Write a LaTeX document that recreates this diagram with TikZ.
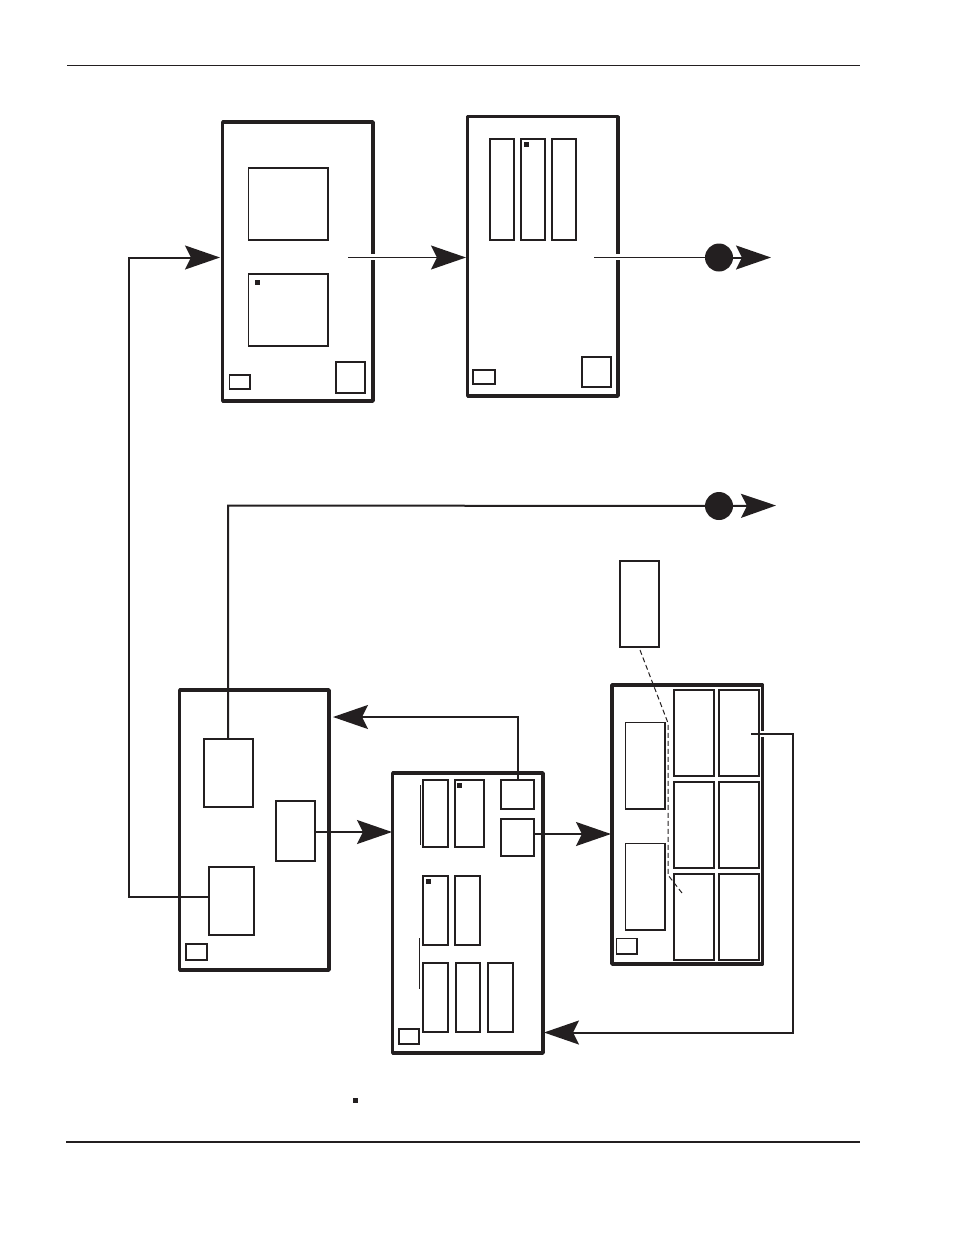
\documentclass[tikz,border=0pt]{standalone}
\usetikzlibrary{arrows.meta}
\definecolor{ink}{HTML}{231F20}
\tikzset{
  board/.style={draw=ink,line width=3.5pt,line join=round},
  part/.style={draw=ink,line width=1.5pt},
  partb/.style={draw=ink,line width=2pt},
  tag/.style={draw=ink,line width=1.1pt},
  conn/.style={draw=ink,line width=2pt},
  head/.style={-{Stealth[length=35pt,width=24pt,inset=6pt,color=ink]}},
  dot/.style={circle,fill=ink,inner sep=0pt,minimum size=28pt},
  marker/.style={fill=ink,draw=none,inner sep=0pt,minimum size=5pt}
}
\newcommand{\bx}[6]{%
  \pgfmathsetmacro{\bw}{#5-#3}\pgfmathsetmacro{\bh}{#6-#4}%
  \node[#2,rectangle,inner sep=0pt,outer sep=0pt,anchor=north west,minimum width=\bw pt,minimum height=\bh pt] (#1) at (#3,#4) {};}
\begin{document}
\begin{tikzpicture}[x=1pt,y=-1pt]
\useasboundingbox (0,0) rectangle (954,1235);
% rules
\coordinate (hl) at (67,65); \coordinate (hr) at (860,65);
\coordinate (fl) at (66,1142); \coordinate (fr) at (860,1142);
\draw[draw=ink,line width=0.9pt] (hl) -- (hr);
\draw[draw=ink,line width=1.8pt] (fl) -- (fr);
% board A
\bx{A}{board}{222.7}{122}{373}{401}
\bx{A1}{part}{248.7}{168}{328}{240}
\bx{A2}{part}{248.7}{274}{328}{346}
\bx{A3}{tag}{229.7}{375}{250}{389}
\bx{A4}{part}{336}{362}{365}{393}
\node[marker] (Am) at (257.5,282) {};
% board B
\bx{B}{board}{467.7}{116.7}{618}{396}
\bx{B1}{part}{490}{139}{514}{240}
\bx{B2}{part}{521}{139}{545}{240}
\bx{B3}{part}{552}{139}{576}{240}
\bx{B4}{tag}{473}{370}{495}{384}
\bx{B5}{part}{582}{357}{611}{387}
\node[marker] (Bm) at (526.5,144.5) {};
% board C
\bx{C}{board}{179.7}{690}{329}{970}
\bx{C1}{part}{204}{739}{253}{807}
\bx{C2}{part}{209}{867}{254}{935}
\bx{C3}{part}{276}{801}{315}{861}
\bx{C4}{tag}{186}{944}{207}{960}
% board D
\bx{D}{board}{392.7}{773}{543}{1053}
\bx{D1}{part}{423}{780}{448}{847}
\bx{D2}{part}{455}{780}{484}{847}
\bx{D3}{partb}{500.5}{780}{534}{809}
\bx{D4}{partb}{500.5}{819}{534}{856}
\bx{D5}{partb}{423}{876}{448}{945}
\bx{D6}{part}{455}{876}{480}{945}
\bx{D7}{part}{423}{963}{448}{1032}
\bx{D8}{part}{456}{963}{480}{1032}
\bx{D9}{part}{488}{963}{513}{1032}
\bx{D10}{partb}{398.5}{1029}{419}{1044}
\node[marker] (Dm1) at (459,785) {};
\node[marker] (Dm2) at (428.5,881) {};
\coordinate (Da) at (420.5,785); \coordinate (Db) at (420.5,845);
\coordinate (Dc) at (419.5,938); \coordinate (Dd) at (419.5,989);
\draw[draw=ink,line width=0.9pt] (Da) -- (Db) (Dc) -- (Dd);
% board E
\bx{E}{board}{612}{685}{762.5}{964}
\bx{E1}{part}{625.3}{722.3}{665}{809}
\bx{E2}{part}{625.3}{843.3}{665}{930}
\bx{E3}{partb}{674}{690}{714}{776}
\bx{E4}{partb}{719}{690}{758.5}{776}
\bx{E5}{partb}{674}{782}{714}{868}
\bx{E6}{partb}{719}{782}{758.5}{868}
\bx{E7}{partb}{674}{874}{714}{960}
\bx{E8}{partb}{719}{874}{758.5}{960}
\bx{E9}{tag}{616.5}{938.5}{637}{954}
% detached box
\bx{F}{part}{620}{561}{659}{647}
% legend marker
\node[marker] (L) at (355,1100.5) {};
% gaps in borders
\coordinate (ga1) at (373,254); \coordinate (ga2) at (373,260);
\coordinate (gb1) at (618,254); \coordinate (gb2) at (618,260);
\coordinate (ge1) at (762.5,731); \coordinate (ge2) at (762.5,737);
\draw[draw=white,line width=4.5pt] (ga1) -- (ga2) (gb1) -- (gb2) (ge1) -- (ge2);
% connectors
\coordinate (a0) at (348,257.5); \coordinate (aT) at (466,257.5);
\draw[conn,line width=1.5pt,head] (a0) -- (aT);
\coordinate (b0) at (594,257.5); \node[dot] (d1) at (719,257.5) {}; \coordinate (bT) at (771,257.5);
\draw[conn,line width=1.6pt] (b0) -- (d1);
\draw[conn,head] (d1) -- (bT);
\coordinate (c2a) at (209,897); \coordinate (l1) at (129,897); \coordinate (l2) at (129,257.5); \coordinate (lT) at (220,257.5);
\draw[conn,head] (c2a) -- (l1) -- (l2) -- (lT);
\coordinate (c1a) at (228,739); \coordinate (u1) at (228,505.5); \node[dot] (d2) at (719,506) {}; \coordinate (uT) at (776,505.5);
\draw[conn] (c1a) -- (u1) -- (d2);
\draw[conn,head] (d2) -- (uT);
\coordinate (c3a) at (315,832); \coordinate (cT) at (392,832);
\draw[conn,head] (c3a) -- (cT);
\coordinate (d3a) at (518,780); \coordinate (v1) at (518,717); \coordinate (vT) at (333,717);
\draw[conn,head] (d3a) -- (v1) -- (vT);
\coordinate (d4a) at (534,834); \coordinate (dT) at (611,834);
\draw[conn,head] (d4a) -- (dT);
\coordinate (e0) at (751,734); \coordinate (e1) at (793,734); \coordinate (e2) at (793,1032.5); \coordinate (eT) at (544,1032.5);
\draw[conn,head] (e0) -- (e1) -- (e2) -- (eT);
% dashed leader
\coordinate (f0) at (640,650); \coordinate (f1) at (668,723); \coordinate (f2) at (668,875); \coordinate (f3) at (682,893);
\draw[draw=ink,line width=1pt,dash pattern=on 5pt off 3pt] (f0) -- (f1) -- (f2) -- (f3);
\end{tikzpicture}
\end{document}
